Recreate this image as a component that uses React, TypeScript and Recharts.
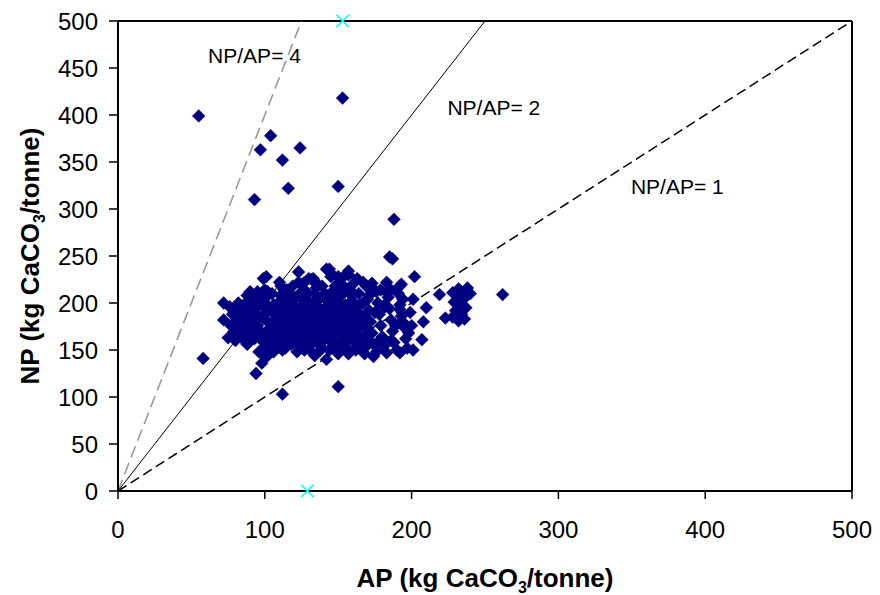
import React from "react";
import {
  ScatterChart,
  Scatter,
  XAxis,
  YAxis,
  ReferenceLine,
  ReferenceDot,
  Label,
} from "recharts";

type Pt = [number, number];

// AP (x), NP (y) — high NP samples
const highNP: Pt[] = [
  [55, 399], [153, 418], [104, 378], [97, 363], [112, 352], [124, 365],
  [116, 322], [150, 324], [93, 310], [188, 289], [185, 249], [187, 247],
];

// isolated / edge samples
const edgeSamples: Pt[] = [
  [262, 209], [150, 111], [202, 228], [238, 216], [219, 209], [210, 195],
  [208, 180], [223, 184], [232, 181], [207, 161], [201, 150], [192, 147],
  [183, 147], [168, 146], [174, 143], [192, 218], [183, 211], [173, 221],
  [153, 227], [144, 236], [201, 204], [192, 193], [181, 197], [142, 140],
  [58, 141], [101, 228], [99, 226], [72, 200], [72, 182], [90, 212],
  [123, 233], [132, 225], [94, 125], [112, 103], [88, 156], [75, 163],
  [98, 136], [142, 236], [100, 143], [193, 180], [193, 220], [228, 211],
];

// group at AP ~ 225-240
const eastGroup: Pt[] = [
  [231, 208], [234, 212], [236, 205], [229, 201], [233, 198], [237, 195],
  [230, 192], [234, 188], [228, 185], [236, 183], [240, 210], [232, 215],
];

// dense main cluster
const mainCluster: Pt[] = [
  [76, 196], [78, 188], [80, 178], [79, 170], [82, 165], [84, 192], [86, 184],
  [85, 172], [88, 168], [87, 200], [90, 190], [91, 180], [92, 174], [93, 162],
  [89, 158], [94, 205], [95, 196], [96, 186], [97, 170], [98, 160], [99, 152],
  [96, 148], [100, 214], [100, 200], [101, 190], [102, 180], [103, 166],
  [104, 156], [102, 144], [105, 210], [106, 198], [107, 188], [108, 176],
  [109, 165], [110, 154], [106, 148], [111, 218], [112, 204], [113, 194],
  [114, 184], [115, 172], [116, 160], [112, 150], [117, 210], [118, 200],
  [119, 190], [120, 178], [121, 168], [118, 156], [122, 148], [123, 222],
  [124, 206], [125, 196], [123, 186], [125, 174], [124, 162], [126, 152],
  [127, 214], [128, 204], [129, 192], [130, 182], [131, 170], [130, 160],
  [132, 148], [133, 226], [134, 210], [135, 198], [136, 188], [137, 176],
  [136, 164], [138, 154], [139, 218], [140, 206], [141, 194], [142, 184],
  [141, 172], [143, 162], [144, 150], [145, 228], [146, 212], [147, 200],
  [148, 190], [146, 178], [148, 168], [149, 156], [150, 146], [151, 220],
  [152, 208], [153, 196], [152, 186], [154, 174], [155, 164], [156, 152],
  [157, 230], [158, 214], [159, 202], [160, 192], [158, 180], [161, 170],
  [162, 158], [163, 226], [164, 210], [165, 198], [166, 186], [165, 176],
  [167, 164], [168, 152], [169, 218], [170, 204], [171, 192], [172, 180],
  [173, 168], [174, 156], [176, 212], [177, 200], [178, 188], [179, 176],
  [180, 164], [181, 154], [183, 222], [184, 206], [185, 194], [186, 182],
  [187, 170], [188, 158], [190, 150], [191, 210], [192, 198], [193, 186],
  [195, 174], [196, 162], [197, 152], [199, 190], [200, 176], [198, 168],
  [110, 186], [114, 202], [118, 172], [121, 196], [126, 182], [129, 168],
  [133, 190], [137, 204], [139, 180], [142, 196], [144, 174], [147, 186],
  [150, 200], [153, 178], [156, 190], [159, 170], [162, 184], [134, 172],
  [128, 178], [120, 160], [116, 190], [108, 194], [104, 174], [140, 160],
  [150, 170], [160, 160], [170, 172], [145, 208], [155, 216], [135, 216],
  [125, 212], [115, 214], [132, 158], [148, 152], [165, 158], [175, 190],
  [182, 196], [189, 176], [108, 162], [100, 168], [94, 182], [88, 176],
  [84, 180], [82, 172], [90, 164], [97, 208], [92, 196], [111, 170],
  [119, 182], [127, 160], [138, 168], [152, 160], [163, 196], [171, 208],
  [179, 214], [186, 214], [194, 204], [194, 180], [186, 160],
  [176, 148], [166, 150], [157, 146], [134, 144], [127, 150], [103, 150],
  [105, 160], [113, 158], [86, 160], [80, 160], [77, 176], [82, 200],
  [88, 208], [95, 212], [130, 226], [145, 232], [150, 228], [157, 234],
  [83, 186], [87, 192], [91, 170], [95, 176], [99, 184], [101, 206],
  [103, 194], [107, 182], [109, 170], [111, 208], [113, 178], [115, 166],
  [117, 196], [119, 204], [121, 186], [123, 176], [125, 166], [127, 196],
  [129, 186], [131, 200], [133, 180], [135, 166], [137, 194], [139, 188],
  [141, 178], [143, 206], [145, 192], [147, 176], [149, 182], [151, 190],
  [153, 170], [155, 198], [157, 184], [159, 208], [161, 178], [163, 168],
  [165, 188], [167, 200], [169, 182], [171, 166], [105, 190], [109, 200],
  [113, 214], [117, 178], [121, 206], [125, 186], [129, 210], [133, 200],
  [137, 184], [141, 210], [145, 164], [149, 204], [153, 214], [157, 162],
  [161, 200], [106, 154], [114, 152], [122, 158], [130, 154], [138, 150],
  [146, 158], [154, 152], [162, 150], [170, 160], [178, 160], [88, 196],
  [92, 186], [96, 164], [84, 168], [80, 192], [90, 204], [98, 198],
  [102, 212], [110, 222], [119, 218], [127, 222], [136, 220], [148, 218],
  [160, 220], [167, 222], [174, 214],
];

// cyan markers on the axes
const axisMarks: Pt[] = [
  [153, 500],
  [129, 0],
];

// ratio lines NP/AP = r, drawn from origin to top/right border
const ratios = [4, 2, 1];
const ratioLabels = ["NP/AP= 4", "NP/AP= 2", "NP/AP= 1"];
const ratioLabelAt: Pt[] = [
  [93, 463],
  [256, 408],
  [381, 324],
];

const xTicks = [0, 100, 200, 300, 400, 500];
const yTicks = [0, 50, 100, 150, 200, 250, 300, 350, 400, 450, 500];
const MAXV = 500;

const toObj = (arr: Pt[]) => arr.map(([x, y]) => ({ x, y }));
const samples = toObj([...mainCluster, ...edgeSamples, ...eastGroup, ...highNP]);
const marks = toObj(axisMarks);

const FONT = "'Liberation Sans', Arial, Helvetica, sans-serif";

const Diamond = (props: any) => {
  const { cx, cy } = props;
  const r = 6.4;
  return (
    <path
      d={`M${cx},${cy - r}L${cx + r},${cy}L${cx},${cy + r}L${cx - r},${cy}Z`}
      fill="#000080"
      stroke="#000080"
      strokeWidth={0.5}
    />
  );
};

const Cross = (props: any) => {
  const { cx, cy } = props;
  const r = 6.3;
  return (
    <path
      d={`M${cx - r},${cy - r}L${cx + r},${cy + r}M${cx - r},${cy + r}L${cx + r},${cy - r}`}
      stroke="#00FFFF"
      strokeWidth={1.6}
      fill="none"
    />
  );
};

const XTitle = (props: any) => {
  const vb = props.viewBox || {};
  const cx = vb.x + vb.width / 2;
  const y = vb.y + vb.height + 36;
  return (
    <text x={cx} y={y} textAnchor="middle" fontFamily={FONT} fontWeight="bold" fontSize={26} fill="#000">
      <tspan>AP (kg CaCO</tspan>
      <tspan dy={6} fontSize={16}>3</tspan>
      <tspan dy={-6}>/tonne)</tspan>
    </text>
  );
};

const YTitle = (props: any) => {
  const vb = props.viewBox || {};
  const cx = 39;
  const cy = vb.y + vb.height / 2;
  return (
    <text
      x={cx}
      y={cy}
      textAnchor="middle"
      fontFamily={FONT}
      fontWeight="bold"
      fontSize={26}
      fill="#000"
      transform={`rotate(-90 ${cx} ${cy})`}
    >
      <tspan>NP (kg CaCO</tspan>
      <tspan dy={6} fontSize={16}>3</tspan>
      <tspan dy={-6}>/tonne)</tspan>
    </text>
  );
};

export default function App() {
  return (
    <div style={{ position: "absolute", left: 0, top: 0, background: "#fff" }}>
      <ScatterChart
        width={880}
        height={595}
        margin={{ top: 21, right: 28, bottom: 44, left: 0 }}
        style={{ fontFamily: FONT }}
      >
        <XAxis
          type="number"
          dataKey="x"
          domain={[0, MAXV]}
          ticks={xTicks}
          interval={0}
          height={60}
          tickSize={8}
          tickMargin={22}
          axisLine={{ stroke: "#000", strokeWidth: 2 }}
          tickLine={{ stroke: "#000", strokeWidth: 1.5 }}
          tick={{ fill: "#000", fontSize: 24, fontFamily: FONT }}
        >
          <Label content={<XTitle />} />
        </XAxis>
        <YAxis
          type="number"
          dataKey="y"
          domain={[0, MAXV]}
          ticks={yTicks}
          interval={0}
          width={118}
          tickSize={9}
          tickMargin={11}
          axisLine={{ stroke: "#000", strokeWidth: 2 }}
          tickLine={{ stroke: "#000", strokeWidth: 1.5 }}
          tick={{ fill: "#000", fontSize: 24, fontFamily: FONT }}
        >
          <Label content={<YTitle />} />
        </YAxis>
        <ReferenceLine y={MAXV} stroke="#000" strokeWidth={2} />
        <ReferenceLine x={MAXV} stroke="#000" strokeWidth={2} />
        <Scatter
          data={samples}
          shape={<Diamond />}
          isAnimationActive={false}
        />
        <ReferenceLine
          segment={[{ x: 0, y: 0 }, { x: MAXV / ratios[0], y: MAXV }]}
          stroke="#999999"
          strokeWidth={1.6}
          strokeDasharray="12 6"
        />
        <ReferenceLine
          segment={[{ x: 0, y: 0 }, { x: MAXV / ratios[1], y: MAXV }]}
          stroke="#000"
          strokeWidth={1}
        />
        <ReferenceLine
          segment={[{ x: 0, y: 0 }, { x: MAXV / ratios[2], y: MAXV }]}
          stroke="#000"
          strokeWidth={1.5}
          strokeDasharray="10 5"
        />
        {ratioLabels.map((t, i) => (
          <ReferenceDot
            key={t}
            x={ratioLabelAt[i][0]}
            y={ratioLabelAt[i][1]}
            r={0}
            fill="none"
            stroke="none"
            label={{ value: t, position: "center", fill: "#000", fontSize: 21, fontFamily: FONT }}
          />
        ))}
        <Scatter data={marks} shape={<Cross />} isAnimationActive={false} />
      </ScatterChart>
    </div>
  );
}
